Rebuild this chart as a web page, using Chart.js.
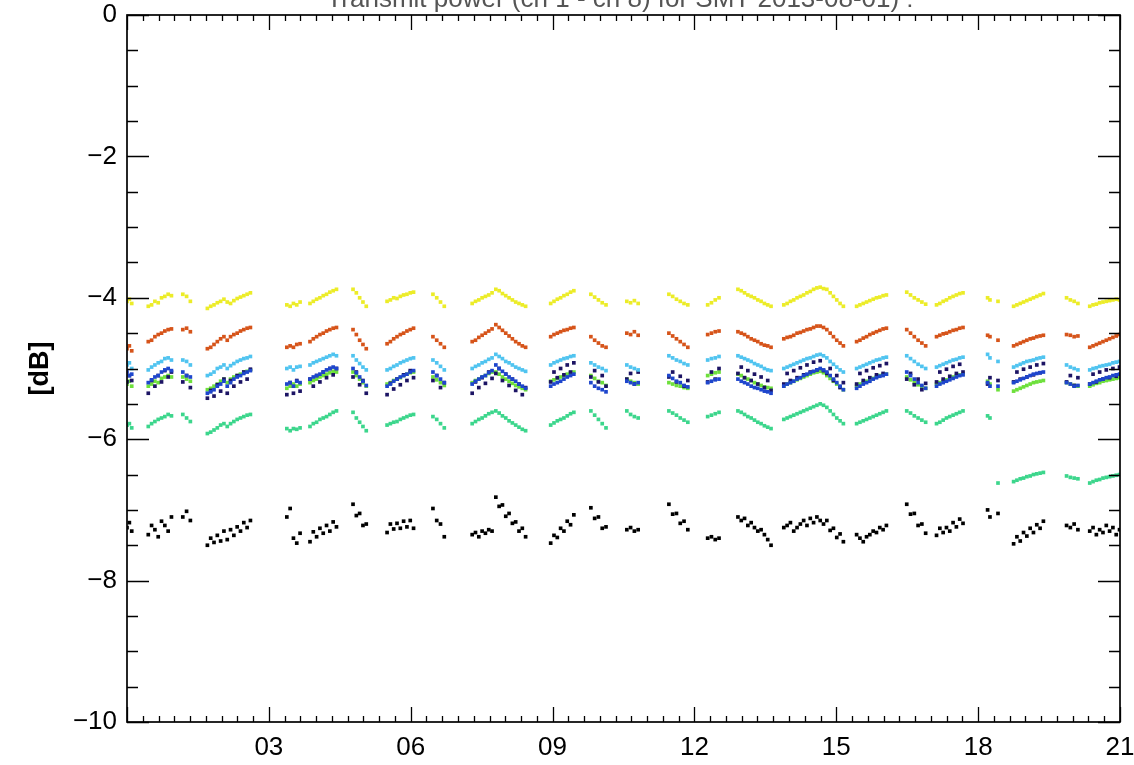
<!DOCTYPE html>
<html>
<head>
<meta charset="utf-8">
<script src="https://cdn.jsdelivr.net/npm/chart.js@4.4.1/dist/chart.umd.min.js"></script>
<style>
  html, body { margin: 0; padding: 0; background: #fff; }
  #wrap { width: 1134px; height: 765px; position: relative; }
</style>
</head>
<body>
<div id="wrap"><canvas id="c" width="1134" height="765"></canvas></div>
<script>
// ---- data ----
const titleText = "Transmit power (ch 1 - ch 8) for SMT 2013-08-01) :";
const yAxisTitle = "[dB]";
const xTickValues = [3, 6, 9, 12, 15, 18, 21];
const xTickLabels = ["03", "06", "09", "12", "15", "18", "21"];
const yTickValues = [0, -2, -4, -6, -8, -10];
const yTickLabels = ["0", "\u22122", "\u22124", "\u22126", "\u22128", "\u221210"];

// time of day [h]
const hours = [
  0.00, 0.05, 0.10,
  0.45, 0.52, 0.59, 0.66, 0.73, 0.80, 0.87, 0.94,
  1.18, 1.26, 1.34,
  1.70, 1.77, 1.84, 1.91, 1.98, 2.05, 2.12, 2.19, 2.26, 2.33, 2.40, 2.47, 2.54, 2.61,
  3.38, 3.45, 3.52, 3.59, 3.66, 3.87, 3.94, 4.01, 4.08, 4.15, 4.22, 4.29, 4.36, 4.43,
  4.78, 4.85, 4.92, 4.99, 5.06,
  5.50, 5.57, 5.64, 5.71, 5.78, 5.85, 5.92, 5.99, 6.06,
  6.47, 6.55, 6.63, 6.71,
  7.30, 7.37, 7.44, 7.51, 7.58, 7.65, 7.72,
  7.80, 7.87, 7.94, 8.01, 8.08, 8.15, 8.22, 8.29, 8.36, 8.43,
  8.96, 9.03, 9.10, 9.17, 9.24, 9.31, 9.38, 9.45,
  9.81, 9.89, 9.97, 10.05, 10.13,
  10.57, 10.65, 10.73, 10.81,
  11.46, 11.54, 11.62, 11.70, 11.78, 11.86,
  12.28, 12.36, 12.44, 12.52,
  12.92, 12.99, 13.06, 13.13, 13.20, 13.27, 13.34, 13.41, 13.48, 13.55, 13.62,
  13.89, 13.96, 14.03, 14.10, 14.17, 14.24, 14.31, 14.38, 14.45, 14.52, 14.59, 14.66, 14.73,
  14.80, 14.87, 14.94, 15.01, 15.08, 15.15,
  15.43, 15.50, 15.57, 15.64, 15.71, 15.78, 15.85, 15.92, 15.99, 16.06,
  16.49, 16.57, 16.65, 16.73, 16.81, 16.89,
  17.12, 17.19, 17.26, 17.33, 17.40, 17.47, 17.54, 17.61, 17.68,
  18.20, 18.25,
  18.42,
  18.75, 18.82, 18.89, 18.96, 19.03, 19.10, 19.17, 19.24, 19.31, 19.38,
  19.87, 19.95, 20.03, 20.11,
  20.36, 20.43, 20.50, 20.57, 20.64, 20.71, 20.78, 20.85, 20.92, 20.99
];

const yellowDB = [
  -4.05, -4.02, -4.08,
  -4.12, -4.10, -4.05, -4.07, -4.00, -3.98, -3.95, -3.97,
  -3.95, -3.98, -4.05,
  -4.15, -4.12, -4.10, -4.07, -4.05, -4.02, -4.06, -4.08, -4.04, -4.01, -3.99, -3.97, -3.95, -3.93,
  -4.10, -4.12, -4.08, -4.10, -4.06, -4.08, -4.05, -4.02, -4.00, -3.97, -3.95, -3.92, -3.90, -3.88,
  -3.88, -3.93, -4.00, -4.06, -4.12,
  -4.05, -4.03, -4.00, -4.01, -3.98, -3.96, -3.95, -3.93, -3.92,
  -3.95, -4.00, -4.06, -4.12,
  -4.08, -4.05, -4.03, -4.00, -3.98, -3.96, -3.93,
  -3.88, -3.90, -3.94, -3.97, -4.00, -4.03, -4.06, -4.08, -4.10, -4.12,
  -4.08, -4.05, -4.02, -4.00, -3.97, -3.95, -3.92, -3.90,
  -3.95, -3.99, -4.03, -4.07, -4.10,
  -4.05, -4.07, -4.04, -4.08,
  -3.95, -3.98, -4.02, -4.05, -4.08, -4.10,
  -4.10, -4.07, -4.03, -4.00,
  -3.88, -3.90, -3.93, -3.96, -3.98, -4.00, -4.03, -4.05, -4.08, -4.10, -4.12,
  -4.10, -4.08, -4.05, -4.03, -4.00, -3.98, -3.96, -3.93, -3.91, -3.88, -3.86, -3.85, -3.87,
  -3.88, -3.93, -3.98, -4.03, -4.08, -4.12,
  -4.12, -4.10, -4.08, -4.06, -4.04, -4.02, -4.00, -3.99, -3.97, -3.96,
  -3.92, -3.96, -4.00, -4.03, -4.06, -4.09,
  -4.10, -4.08, -4.05, -4.03, -4.00, -3.98, -3.96, -3.94, -3.93,
  -4.00, -4.03,
  -4.05,
  -4.12, -4.10, -4.08, -4.06, -4.04, -4.02, -4.00, -3.98, -3.96, -3.94,
  -4.00, -4.03, -4.05, -4.08,
  -4.12, -4.10, -4.09, -4.07, -4.06, -4.05, -4.04, -4.03, -4.02, -4.03
];

const orangeDB = [
  -4.72, -4.68, -4.75,
  -4.62, -4.60, -4.55, -4.52, -4.50, -4.47, -4.45, -4.44,
  -4.45, -4.43, -4.48,
  -4.72, -4.70, -4.66, -4.62, -4.58, -4.55, -4.60, -4.55, -4.52, -4.50, -4.47, -4.45, -4.43, -4.42,
  -4.70, -4.68, -4.70, -4.66, -4.65, -4.62, -4.58, -4.55, -4.52, -4.50, -4.47, -4.45, -4.43, -4.42,
  -4.45, -4.52, -4.60, -4.66, -4.72,
  -4.65, -4.62, -4.58, -4.55, -4.52, -4.50, -4.47, -4.45, -4.43,
  -4.55, -4.60, -4.65, -4.70,
  -4.62, -4.60, -4.56, -4.53, -4.50, -4.47, -4.44,
  -4.38, -4.42, -4.46, -4.50, -4.54, -4.58, -4.62, -4.65, -4.68, -4.70,
  -4.55, -4.52, -4.50, -4.48, -4.46, -4.45, -4.43, -4.42,
  -4.55, -4.60, -4.64, -4.68, -4.70,
  -4.50, -4.52, -4.48, -4.53,
  -4.50, -4.54, -4.58, -4.62, -4.66, -4.70,
  -4.52, -4.50, -4.48, -4.47,
  -4.48, -4.50, -4.52, -4.55, -4.58, -4.60, -4.62, -4.65, -4.67, -4.68, -4.70,
  -4.58, -4.56, -4.55, -4.53, -4.50, -4.49, -4.47, -4.45, -4.44, -4.42, -4.40, -4.40, -4.42,
  -4.45, -4.50, -4.55, -4.60, -4.64, -4.68,
  -4.62, -4.60, -4.57, -4.55, -4.52, -4.50, -4.48, -4.46, -4.44, -4.43,
  -4.45, -4.50, -4.55, -4.60, -4.64, -4.68,
  -4.55, -4.53, -4.51, -4.50, -4.48, -4.46, -4.45, -4.43, -4.42,
  -4.53, -4.55,
  -4.60,
  -4.68, -4.66, -4.64, -4.62, -4.60, -4.58, -4.57, -4.55, -4.54, -4.53,
  -4.52, -4.53, -4.55, -4.54,
  -4.70, -4.68, -4.66, -4.64, -4.62, -4.60, -4.58, -4.56, -4.54, -4.52
];

const cyanDB = [
  -4.95, -4.92, -5.00,
  -5.02, -4.98, -4.95, -4.92, -4.90, -4.86, -4.85, -4.88,
  -4.88, -4.90, -4.95,
  -5.10, -5.08, -5.05, -5.00, -4.98, -4.95, -5.00, -4.96, -4.93, -4.90, -4.88, -4.86, -4.85, -4.83,
  -5.00, -4.98, -5.02, -4.98, -4.97, -4.95, -4.92, -4.90, -4.88, -4.86, -4.84, -4.82, -4.80, -4.82,
  -4.82, -4.88, -4.93, -4.98, -5.02,
  -5.02, -5.00, -4.97, -4.95, -4.92, -4.90, -4.88, -4.86, -4.85,
  -4.88, -4.92, -4.97, -5.02,
  -5.00, -4.97, -4.95, -4.92, -4.90, -4.87, -4.85,
  -4.80, -4.83, -4.86, -4.90, -4.92, -4.95, -4.98, -5.00, -5.02, -5.04,
  -4.95, -4.92, -4.90, -4.88, -4.86, -4.85, -4.83, -4.82,
  -4.92, -4.95, -4.98, -5.00, -5.03,
  -4.95, -4.98, -5.00, -5.02,
  -4.82, -4.85, -4.88, -4.90, -4.93, -4.95,
  -4.88, -4.86, -4.85, -4.83,
  -4.82, -4.84, -4.86, -4.88, -4.90, -4.93, -4.95, -4.97, -5.00, -5.02, -5.03,
  -5.00, -4.98, -4.96, -4.94, -4.92, -4.90, -4.88, -4.86, -4.85, -4.83, -4.81, -4.80, -4.82,
  -4.85, -4.90, -4.94, -4.98, -5.02, -5.05,
  -5.00, -4.98, -4.96, -4.94, -4.92, -4.90, -4.88, -4.87, -4.85, -4.84,
  -4.82, -4.86, -4.90, -4.94, -4.97, -5.00,
  -4.98, -4.96, -4.94, -4.92, -4.90, -4.88, -4.87, -4.85, -4.84,
  -4.80, -4.85,
  -4.90,
  -4.98, -4.96, -4.94, -4.92, -4.90, -4.89, -4.88, -4.86, -4.85, -4.84,
  -4.95, -4.98, -5.00, -5.02,
  -5.02, -5.00, -4.99, -4.97, -4.96, -4.95, -4.94, -4.92, -4.91, -4.90
];

const blueDB = [
  -5.05, -5.10, -5.08,
  -5.20, -5.16, -5.12, -5.10, -5.05, -5.02, -5.00, -5.03,
  -5.05, -5.10, -5.12,
  -5.35, -5.33, -5.30, -5.25, -5.22, -5.18, -5.25, -5.20, -5.15, -5.12, -5.10, -5.07, -5.05, -5.03,
  -5.22, -5.20, -5.25, -5.18, -5.20, -5.15, -5.12, -5.10, -5.08, -5.05, -5.02, -5.00, -4.98, -5.00,
  -5.00, -5.06, -5.12, -5.18, -5.24,
  -5.25, -5.22, -5.18, -5.15, -5.12, -5.10, -5.08, -5.05, -5.03,
  -5.05, -5.10, -5.15, -5.20,
  -5.22, -5.18, -5.15, -5.12, -5.10, -5.06, -5.03,
  -4.95, -5.00, -5.04, -5.08, -5.12, -5.15, -5.18, -5.22, -5.25, -5.28,
  -5.25, -5.22, -5.20, -5.18, -5.15, -5.12, -5.10, -5.08,
  -5.20, -5.25, -5.28, -5.30, -5.33,
  -5.18, -5.20, -5.22, -5.20,
  -5.10, -5.14, -5.18, -5.20, -5.24, -5.26,
  -5.20, -5.18, -5.16, -5.15,
  -5.15, -5.18, -5.20, -5.22, -5.25, -5.27, -5.28, -5.30, -5.32, -5.33, -5.35,
  -5.25, -5.22, -5.20, -5.18, -5.15, -5.13, -5.10, -5.08, -5.06, -5.04, -5.02, -5.00, -5.02,
  -5.05, -5.10, -5.15, -5.20, -5.25, -5.30,
  -5.28, -5.25, -5.22, -5.20, -5.18, -5.15, -5.13, -5.11, -5.10, -5.08,
  -5.05, -5.10, -5.15, -5.20, -5.24, -5.28,
  -5.25, -5.22, -5.20, -5.18, -5.16, -5.14, -5.12, -5.10, -5.09,
  -5.20, -5.25,
  -5.25,
  -5.20, -5.18, -5.16, -5.14, -5.12, -5.10, -5.08, -5.07, -5.06, -5.05,
  -5.20, -5.22, -5.25, -5.24,
  -5.22, -5.20, -5.18, -5.16, -5.15, -5.13, -5.12, -5.10, -5.09, -5.08
];

const navyDB = [
  -5.19, -5.10, -5.17,
  -5.35, -5.17, -5.25, -5.10, -5.19, -5.03, -5.12, -5.05,
  -5.19, -5.10, -5.27,
  -5.42, -5.31, -5.39, -5.23, -5.32, -5.15, -5.35, -5.17, -5.25, -5.10, -5.19, -5.05, -5.15, -5.01,
  -5.37, -5.20, -5.35, -5.17, -5.32, -5.15, -5.25, -5.10, -5.19, -5.05, -5.13, -5.00, -5.09, -5.00,
  -5.12, -5.05, -5.23, -5.17, -5.35,
  -5.37, -5.21, -5.29, -5.15, -5.23, -5.09, -5.17, -5.03, -5.13,
  -5.17, -5.10, -5.27, -5.20,
  -5.35, -5.19, -5.27, -5.13, -5.21, -5.05, -5.14,
  -5.07, -5.00, -5.17, -5.08, -5.24, -5.15, -5.31, -5.22, -5.37, -5.27,
  -5.19, -5.05, -5.13, -5.00, -5.09, -4.95, -5.05, -4.92,
  -5.12, -5.03, -5.19, -5.10, -5.25,
  -5.15, -5.07, -5.22, -5.05,
  -5.12, -5.05, -5.19, -5.11, -5.25, -5.17,
  -5.19, -5.05, -5.15, -5.00,
  -5.07, -4.98, -5.13, -5.03, -5.17, -5.08, -5.22, -5.12, -5.27, -5.17, -5.31,
  -5.22, -5.07, -5.17, -5.03, -5.13, -4.99, -5.09, -4.95, -5.05, -4.91, -5.02, -4.89, -5.03,
  -5.07, -5.00, -5.17, -5.10, -5.27, -5.20,
  -5.22, -5.07, -5.17, -5.03, -5.13, -4.99, -5.09, -4.96, -5.07, -4.93,
  -5.15, -5.07, -5.23, -5.15, -5.30, -5.21,
  -5.19, -5.05, -5.15, -5.01, -5.11, -4.97, -5.07, -4.94, -5.05,
  -5.22, -5.13,
  -5.17,
  -5.19, -5.05, -5.15, -5.01, -5.12, -4.98, -5.09, -4.95, -5.06, -4.93,
  -5.19, -5.10, -5.24, -5.13,
  -5.22, -5.08, -5.19, -5.05, -5.15, -5.02, -5.13, -5.00, -5.11, -4.98
];

const greenDB = [
  -5.22, -5.18, -5.25,
  -5.25, -5.22, -5.18, -5.20, -5.14, -5.12, -5.10, -5.12,
  -5.12, -5.15, -5.18,
  -5.30, -5.28, -5.25, -5.22, -5.18, -5.15, -5.20, -5.15, -5.12, -5.10, -5.08, -5.05, -5.04, -5.02,
  -5.28, -5.25, -5.22, -5.25, -5.22, -5.20, -5.17, -5.15, -5.12, -5.10, -5.08, -5.06, -5.04, -5.05,
  -5.05, -5.10, -5.15, -5.20, -5.25,
  -5.22, -5.20, -5.17, -5.15, -5.13, -5.10, -5.08, -5.06, -5.05,
  -5.12, -5.16, -5.20, -5.24,
  -5.20, -5.17, -5.15, -5.12, -5.10, -5.07, -5.05,
  -5.05, -5.08, -5.12, -5.15, -5.18, -5.21, -5.24, -5.26, -5.28, -5.30,
  -5.18, -5.16, -5.14, -5.12, -5.10, -5.08, -5.06, -5.05,
  -5.10, -5.14, -5.18, -5.20, -5.24,
  -5.15, -5.18, -5.20, -5.22,
  -5.20, -5.22, -5.24, -5.25, -5.27, -5.28,
  -5.10, -5.08, -5.06, -5.05,
  -5.08, -5.10, -5.13, -5.15, -5.17, -5.20, -5.22, -5.24, -5.26, -5.27, -5.28,
  -5.25, -5.22, -5.20, -5.18, -5.16, -5.14, -5.12, -5.10, -5.08, -5.06, -5.05, -5.04, -5.06,
  -5.10, -5.14, -5.18, -5.22, -5.26, -5.30,
  -5.25, -5.22, -5.20, -5.18, -5.16, -5.14, -5.12, -5.10, -5.09, -5.08,
  -5.12, -5.16, -5.20, -5.23, -5.26, -5.28,
  -5.22, -5.20, -5.18, -5.16, -5.14, -5.12, -5.10, -5.09, -5.08,
  -5.18, -5.22,
  -5.30,
  -5.32, -5.30, -5.28, -5.26, -5.24, -5.22, -5.20, -5.19, -5.18, -5.17,
  -5.20, -5.22, -5.24, -5.25,
  -5.25, -5.23, -5.21, -5.20, -5.18, -5.17, -5.16, -5.15, -5.14, -5.13
];

const seaGreenDB = [
  -5.80, -5.78, -5.84,
  -5.82, -5.78, -5.75, -5.72, -5.70, -5.68, -5.65, -5.67,
  -5.65, -5.70, -5.75,
  -5.92, -5.90, -5.87, -5.84, -5.80, -5.78, -5.82, -5.78, -5.75, -5.72, -5.70, -5.68, -5.66, -5.65,
  -5.85, -5.88, -5.85, -5.86, -5.84, -5.82, -5.78, -5.76, -5.72, -5.70, -5.68, -5.65, -5.62, -5.60,
  -5.62, -5.70, -5.76, -5.82, -5.88,
  -5.80, -5.78, -5.76, -5.75, -5.72, -5.70, -5.68, -5.66, -5.65,
  -5.68, -5.72, -5.78, -5.84,
  -5.78, -5.75, -5.72, -5.70, -5.67, -5.64, -5.62,
  -5.60, -5.63, -5.67, -5.70, -5.74, -5.77, -5.80, -5.83, -5.86, -5.88,
  -5.80, -5.77, -5.74, -5.72, -5.70, -5.67, -5.64, -5.62,
  -5.60, -5.66, -5.72, -5.78, -5.84,
  -5.60, -5.65, -5.68, -5.70,
  -5.60, -5.63, -5.66, -5.70, -5.73, -5.76,
  -5.68, -5.66, -5.64, -5.62,
  -5.60, -5.62, -5.65, -5.68, -5.70, -5.73, -5.76, -5.78, -5.81, -5.83, -5.85,
  -5.72, -5.70, -5.68, -5.66, -5.64, -5.62, -5.60, -5.58, -5.56, -5.54, -5.52, -5.50, -5.52,
  -5.55, -5.60, -5.65, -5.70, -5.74, -5.78,
  -5.78, -5.76, -5.74, -5.72, -5.70, -5.68, -5.66, -5.64, -5.62, -5.60,
  -5.60, -5.63, -5.67, -5.70, -5.73, -5.76,
  -5.78, -5.76, -5.73, -5.70, -5.68, -5.66, -5.64, -5.62, -5.60,
  -5.67, -5.70,
  -6.62,
  -6.60, -6.58, -6.56, -6.55, -6.53, -6.52, -6.50, -6.49, -6.48, -6.47,
  -6.52, -6.54, -6.55, -6.56,
  -6.62, -6.60, -6.58, -6.57, -6.55, -6.54, -6.53, -6.52, -6.51, -6.50
];

const blackDB = [
  -7.25, -7.18, -7.30,
  -7.35, -7.22, -7.28, -7.38, -7.16, -7.22, -7.30, -7.10,
  -7.10, -7.02, -7.15,
  -7.50, -7.40, -7.46, -7.36, -7.44, -7.30, -7.42, -7.28, -7.36, -7.24, -7.30, -7.18, -7.25, -7.15,
  -7.10, -6.98, -7.40, -7.47, -7.33, -7.45, -7.31, -7.38, -7.26, -7.33, -7.22, -7.30, -7.17, -7.24,
  -6.92, -7.08, -7.05, -7.22, -7.20,
  -7.32, -7.20, -7.27, -7.19, -7.26, -7.16, -7.24, -7.15, -7.26,
  -6.98, -7.15, -7.20, -7.38,
  -7.35, -7.32, -7.38, -7.30, -7.33, -7.28, -7.30,
  -6.82, -6.95, -6.93, -7.09, -7.05, -7.19, -7.17, -7.30, -7.26, -7.38,
  -7.47, -7.36, -7.39, -7.26, -7.30, -7.16, -7.21, -7.07,
  -6.97, -7.12, -7.10, -7.26, -7.24,
  -7.28, -7.25, -7.30, -7.28,
  -6.92, -7.06, -7.05, -7.19, -7.16, -7.28,
  -7.40, -7.38, -7.42, -7.40,
  -7.10, -7.15, -7.12, -7.22, -7.18, -7.25, -7.30, -7.28, -7.35, -7.42, -7.50,
  -7.25, -7.22, -7.18, -7.30, -7.25, -7.20, -7.15, -7.22, -7.12, -7.18, -7.10, -7.15, -7.20,
  -7.15, -7.29, -7.26, -7.39, -7.34, -7.45,
  -7.35, -7.40, -7.45, -7.38, -7.35, -7.30, -7.32, -7.25, -7.28, -7.22,
  -6.92, -7.06, -7.05, -7.22, -7.20, -7.33,
  -7.36, -7.26, -7.32, -7.25, -7.30, -7.18, -7.24, -7.13, -7.19,
  -7.00, -7.10,
  -7.05,
  -7.48, -7.38, -7.44, -7.32, -7.37, -7.26, -7.32, -7.21, -7.26, -7.16,
  -7.22, -7.25, -7.20, -7.28,
  -7.30, -7.25, -7.35, -7.28, -7.32, -7.22, -7.30, -7.25, -7.35, -7.28
];

const seriesNames = ["ch1", "ch2", "ch3", "ch4", "ch5", "ch6", "ch7", "ch8"];
const seriesValues = [yellowDB, orangeDB, cyanDB, blueDB, navyDB, greenDB, seaGreenDB, blackDB];
const seriesColors = [
  "rgb(236,236,40)", "rgb(214,84,26)", "rgb(80,196,240)", "rgb(30,70,205)",
  "rgb(28,20,100)", "rgb(110,224,60)", "rgb(60,214,140)", "rgb(0,0,0)"
];

// ---- chart ----
const FONT = "'Liberation Sans', Arial, Helvetica, sans-serif";

const datasets = seriesValues.map((vals, k) => ({
  label: seriesNames[k],
  data: hours.map((h, i) => ({ x: h, y: vals[i] })).filter(p => p.y !== undefined && p.y !== null),
  showLine: false,
  pointStyle: 'rect',
  pointRadius: 2.6,
  pointBorderWidth: 0,
  backgroundColor: seriesColors[k],
  borderColor: seriesColors[k]
}));

const idlFrame = {
  id: 'idlFrame',
  afterDatasetsDraw(chart) {
    const { ctx, chartArea: a, scales: { x, y } } = chart;
    ctx.save();
    ctx.strokeStyle = '#000';
    ctx.lineWidth = 1.7;
    ctx.strokeRect(a.left, a.top, a.right - a.left, a.bottom - a.top);
    ctx.lineWidth = 1.3;
    ctx.beginPath();
    // x ticks every 20 min, major every 3 h
    for (let m = 0; m <= 63; m++) {
      const px = Math.round(x.getPixelForValue(m / 3)) + 0.5;
      const L = (m % 9 === 0) ? 15 : 6;
      ctx.moveTo(px, a.bottom); ctx.lineTo(px, a.bottom - L);
      ctx.moveTo(px, a.top); ctx.lineTo(px, a.top + L);
    }
    // y ticks every 0.5 dB, major every 2 dB
    for (let k = 0; k <= 20; k++) {
      const py = Math.round(y.getPixelForValue(-10 + k * 0.5)) + 0.5;
      const L = (k % 4 === 0) ? 22 : 11;
      ctx.moveTo(a.left, py); ctx.lineTo(a.left + L, py);
      ctx.moveTo(a.right, py); ctx.lineTo(a.right - L, py);
    }
    ctx.stroke();
    // title, clipped by the top edge of the picture
    ctx.fillStyle = '#555';
    ctx.font = "26px " + FONT;
    ctx.textAlign = 'center';
    ctx.textBaseline = 'alphabetic';
    ctx.fillText(titleText, 620, 7);
    ctx.restore();
  }
};

new Chart(document.getElementById('c'), {
  type: 'scatter',
  data: { datasets },
  plugins: [idlFrame],
  options: {
    responsive: false,
    devicePixelRatio: 1,
    animation: false,
    layout: { padding: { left: 0, top: 15, right: 14, bottom: 0 } },
    plugins: { legend: { display: false }, tooltip: { enabled: false }, title: { display: false } },
    scales: {
      x: {
        type: 'linear', min: 0, max: 21, position: 'bottom',
        afterBuildTicks: s => { s.ticks = xTickValues.map(v => ({ value: v })); },
        afterFit: s => { s.height = 43; s.paddingLeft = 0; s.paddingRight = 0; },
        ticks: {
          autoSkip: false, maxRotation: 0, padding: 10, color: '#000',
          font: { family: FONT, size: 26 },
          callback: (v) => { const i = xTickValues.indexOf(v); return i >= 0 ? xTickLabels[i] : ''; }
        },
        grid: { display: false, drawTicks: false },
        border: { display: false }
      },
      y: {
        type: 'linear', min: -10, max: 0, position: 'left',
        afterBuildTicks: s => { s.ticks = yTickValues.map(v => ({ value: v })); },
        afterFit: s => { s.width = 127; s.paddingTop = 0; s.paddingBottom = 0; },
        ticks: {
          autoSkip: false, padding: 10, color: '#000',
          font: { family: FONT, size: 26 },
          callback: (v) => { const i = yTickValues.indexOf(v); return i >= 0 ? yTickLabels[i] : ''; }
        },
        title: { display: true, text: yAxisTitle, color: '#000', font: { family: FONT, size: 27, weight: 'bold' }, padding: { top: 24, bottom: 0 } },
        grid: { display: false, drawTicks: false },
        border: { display: false }
      }
    }
  }
});
</script>
</body>
</html>
